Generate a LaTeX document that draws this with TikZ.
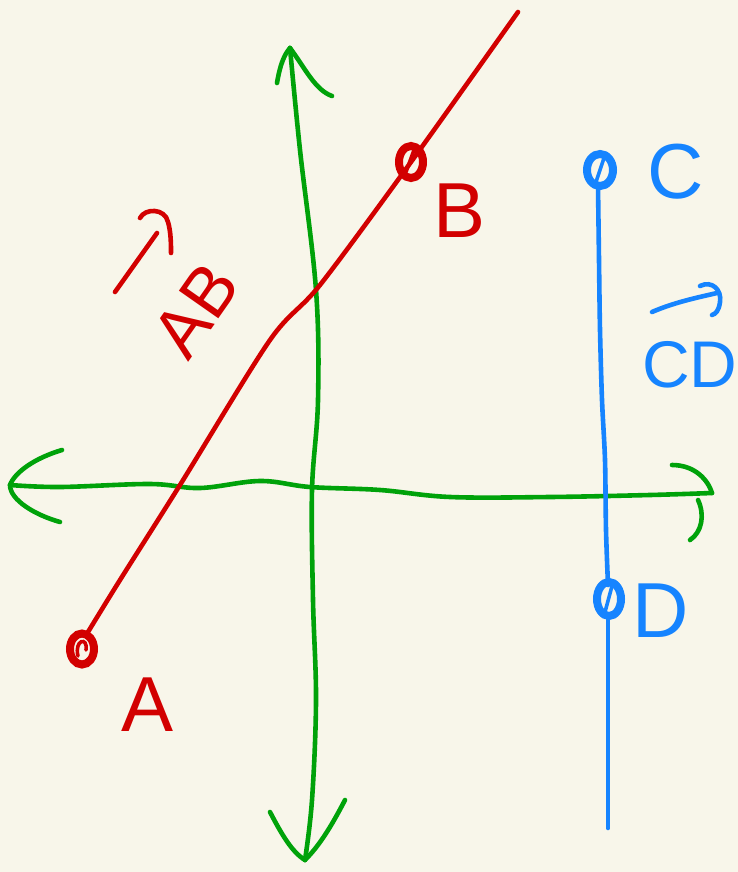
\documentclass[tikz,border=0pt]{standalone}
\usepackage{fontspec}
\setmainfont{Liberation Sans}
\definecolor{bg}{HTML}{F8F6EA}
\definecolor{pred}{HTML}{D20000}
\definecolor{pgreen}{HTML}{00A20A}
\definecolor{pblue}{HTML}{1684FF}
\begin{document}
\begin{tikzpicture}[x=1pt,y=-1pt,
  stroke/.style={line width=4.6pt,line cap=round,line join=round},
  thinstroke/.style={line width=3.6pt,line cap=round},
  ptnode/.style={inner sep=0pt,minimum size=0pt},
  ring/.style={line width=8pt},
  lbl/.style={inner sep=0pt,font=\fontsize{78}{80}\selectfont}]
\fill[bg] (0,0) rectangle (738,872);
\useasboundingbox (0,0) rectangle (738,872);
% green vertical axis
\coordinate (vt) at (290,48);
\coordinate (vb) at (305,860);
\draw[stroke,pgreen] plot[smooth,tension=0.6] coordinates {(290,48) (300,150) (316,290) (318,400) (312,490) (313,600) (316,700) (312,800) (305,860)};
\draw[stroke,pgreen] (277,83) .. controls (280,65) and (284,55) .. (vt);
\draw[stroke,pgreen] (vt) .. controls (305,68) and (315,90) .. (332,96);
\draw[stroke,pgreen] (270,812) .. controls (282,835) and (292,852) .. (vb);
\draw[stroke,pgreen] (vb) .. controls (320,845) and (332,825) .. (345,800);
% green horizontal axis
\coordinate (hl) at (10,485);
\coordinate (hr) at (712,493);
\draw[stroke,pgreen] plot[smooth,tension=0.6] coordinates {(10,485) (60,487) (150,484) (200,488) (260,481) (310,487) (380,490) (450,497) (550,497) (650,495) (712,493)};
\draw[stroke,pgreen] (62,450) .. controls (35,458) and (15,472) .. (hl);
\draw[stroke,pgreen] (hl) .. controls (10,500) and (35,515) .. (60,522);
\draw[stroke,pgreen] (672,465) .. controls (695,465) and (708,480) .. (hr);
\draw[stroke,pgreen] (698,500) .. controls (705,515) and (702,532) .. (690,540);
% red line AB
\node[ptnode] (A) at (82,649) {};
\node[ptnode] (B) at (411,162) {};
\coordinate (Rend) at (518,12);
\draw[stroke,pred] plot[smooth,tension=0.5] coordinates {(88,632) (120,580) (180,485) (270,340) (320,285) (411,162) (518,12)};
\draw[ring,pred] (A) ellipse [x radius=12, y radius=15.5];
\draw[ring,pred] (B) ellipse [x radius=12, y radius=16];
\draw[thinstroke,pred] (78,656) .. controls (74,640) and (88,636) .. (86,650);
\draw[thinstroke,pred] (406,172) -- (414,150);
% blue line CD
\node[ptnode] (C) at (600,170) {};
\node[ptnode] (D) at (609,599) {};
\coordinate (Bend) at (608,828);
\draw[stroke,pblue] plot[smooth,tension=0.5] coordinates {(598,186) (599,260) (600,330) (602,400) (605,460) (606,530) (608,585)};
\draw[stroke,pblue] plot[smooth,tension=0.5] coordinates {(608,615) (608,700) (608,828)};
\draw[ring,pblue] (C) ellipse [x radius=13, y radius=16];
\draw[ring,pblue] (D) ellipse [x radius=12, y radius=17];
\draw[thinstroke,pblue] (596,182) -- (604,158);
\draw[thinstroke,pblue] (605,612) -- (612,586);
% labels
\node[lbl,text=pred] (lA) at (148,705) {A};
\node[lbl,text=pred] (lB) at (460,211) {B};
\node[lbl,text=pblue] (lC) at (676,172) {C};
\node[lbl,text=pblue] (lD) at (661,611) {D};
\node[inner sep=0pt,text=pred,rotate=55,font=\fontsize{70}{72}\selectfont] (lAB) at (196,310) {AB};
\node[inner sep=0pt,text=pblue,font=\fontsize{66}{68}\selectfont] (lCD) at (690,365) {CD};
% vector arrows
\draw[stroke,pred] (115,292) -- (157,233);
\draw[stroke,pred] (140,218) .. controls (145,208) and (165,208) .. (168,222) .. controls (171,232) and (171,245) .. (171,253);
\draw[stroke,pblue] (652,312) .. controls (675,302) and (700,297) .. (717,293);
\draw[stroke,pblue] (700,286) .. controls (712,280) and (722,290) .. (720,302) .. controls (719,310) and (716,314) .. (712,315);
\end{tikzpicture}
\end{document}
